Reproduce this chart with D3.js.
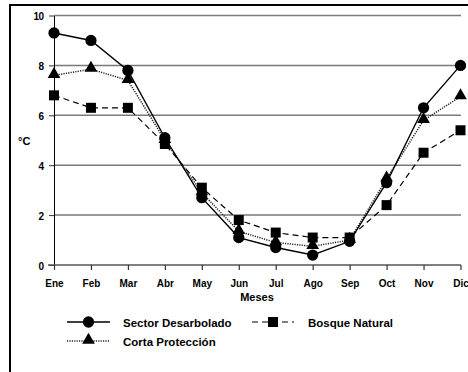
<!DOCTYPE html>
<html>
<head>
<meta charset="utf-8">
<script src="https://cdn.jsdelivr.net/npm/d3@7"></script>
<style>
  html, body { margin: 0; padding: 0; background: #fff; }
  svg { display: block; font-family: "Liberation Sans", Arial, sans-serif; }
</style>
</head>
<body>
<svg id="chart" width="468" height="372"></svg>
<script>
// Monthly mean temperature (°C) in three forest sectors
const months = ["Ene","Feb","Mar","Abr","May","Jun","Jul","Ago","Sep","Oct","Nov","Dic"];
const sectorDesarbolado = [9.3, 9.0, 7.8, 5.1, 2.7, 1.1, 0.7, 0.4, 0.95, 3.3, 6.3, 8.0];
const bosqueNatural     = [6.8, 6.3, 6.3, 4.85, 3.1, 1.8, 1.3, 1.1, 1.1, 2.4, 4.5, 5.4];
const cortaProteccion   = [7.6, 7.85, 7.4, 5.0, 2.9, 1.35, 0.9, 0.75, 1.0, 3.45, 5.8, 6.75];
const yTicks = [0, 2, 4, 6, 8, 10];

const svg = d3.select("#chart");

// outer frame (only top and left edges fall inside the view)
svg.append("rect")
  .attr("x", 10).attr("y", 5)
  .attr("width", 480).attr("height", 400)
  .attr("fill", "none").attr("stroke", "#000").attr("stroke-width", 2);

const x = d3.scalePoint().domain(months).range([54, 460.5]);
const y = d3.scaleLinear().domain([0, 10]).range([265, 15.5]);

// horizontal gridlines
svg.append("g")
  .selectAll("line")
  .data(yTicks.filter(d => d > 0))
  .join("line")
  .attr("x1", 54).attr("x2", 461)
  .attr("y1", d => y(d)).attr("y2", d => y(d))
  .attr("stroke", "#7a7a7a").attr("stroke-width", 1.5);

// y axis
const yAxis = svg.append("g")
  .attr("transform", "translate(54,0)")
  .call(d3.axisLeft(y).tickValues(yTicks).tickFormat(d3.format("d")).tickSize(5).tickSizeOuter(0));
yAxis.select(".domain").attr("stroke", "#000").attr("stroke-width", 1);
yAxis.selectAll(".tick line").attr("stroke", "#333");
yAxis.selectAll(".tick text")
  .attr("x", -10.5)
  .attr("dy", "0.4em")
  .attr("font-size", 10).attr("font-weight", "bold").attr("fill", "#000")
  .attr("letter-spacing", -0.5)
  .attr("font-family", "Liberation Sans, Arial, sans-serif");

// x axis
const xAxis = svg.append("g")
  .attr("transform", "translate(0,265)")
  .call(d3.axisBottom(x).tickSize(5).tickSizeOuter(0));
xAxis.select(".domain").attr("stroke", "#555").attr("stroke-width", 1.5)
  .attr("d", "M48,0H461");
xAxis.selectAll(".tick line").attr("stroke", "#333").attr("stroke-width", 1.2);
xAxis.selectAll(".tick text")
  .attr("y", 21.5).attr("dy", null)
  .attr("font-size", 10).attr("font-weight", "bold").attr("fill", "#000")
  .attr("font-family", "Liberation Sans, Arial, sans-serif");

// axis titles
svg.append("text")
  .attr("x", 257).attr("y", 300.5)
  .attr("text-anchor", "middle")
  .attr("font-size", 11).attr("font-weight", "bold")
  .text("Meses");
svg.append("text")
  .attr("x", 18).attr("y", 145)
  .attr("font-size", 11).attr("font-weight", "bold")
  .text("°C");

const line = d3.line().x((d, i) => x(months[i])).y(d => y(d));

const series = [
  { name: "Sector Desarbolado", values: sectorDesarbolado, dash: null, color: "#000", width: 1.4, marker: "circle" },
  { name: "Bosque Natural", values: bosqueNatural, dash: "6,4", color: "#000", width: 1.2, marker: "square" },
  { name: "Corta Protección", values: cortaProteccion, dash: "1.2,1.2", color: "#222", width: 1.5, marker: "triangle" }
];

const symbolFor = {
  circle: d3.symbol(d3.symbolCircle, 100),
  square: d3.symbol(d3.symbolSquare, 100),
  triangle: d3.symbol(d3.symbolTriangle, 70)
};

// draw order: lines first, then markers
const drawOrder = [series[1], series[2], series[0]];
drawOrder.forEach(s => {
  svg.append("path")
    .datum(s.values)
    .attr("d", line)
    .attr("fill", "none")
    .attr("stroke", s.color)
    .attr("stroke-width", s.width)
    .attr("stroke-dasharray", s.dash);
});
drawOrder.forEach(s => {
  svg.append("g")
    .selectAll("path")
    .data(s.values)
    .join("path")
    .attr("d", symbolFor[s.marker])
    .attr("transform", (d, i) => `translate(${x(months[i])},${y(d) + (s.marker === "triangle" ? -1 : 0)})`)
    .attr("fill", "#000");
});

// legend
const legendItems = [
  { s: series[0], x0: 67, x1: 110, tx: 123, y: 322 },
  { s: series[1], x0: 252, x1: 294, tx: 308, y: 322 },
  { s: series[2], x0: 67, x1: 110, tx: 123, y: 341 }
];
legendItems.forEach(it => {
  const g = svg.append("g");
  g.append("line")
    .attr("x1", it.x0).attr("x2", it.x1)
    .attr("y1", it.y).attr("y2", it.y)
    .attr("stroke", it.s.color).attr("stroke-width", it.s.width)
    .attr("stroke-dasharray", it.s.dash);
  g.append("path")
    .attr("d", symbolFor[it.s.marker])
    .attr("transform", `translate(${(it.x0 + it.x1) / 2},${it.y + (it.s.marker === "triangle" ? -1 : 0)})`)
    .attr("fill", "#000");
  g.append("text")
    .attr("x", it.tx).attr("y", it.y + 4.5)
    .attr("font-size", 11.5).attr("font-weight", "bold")
    .text(it.s.name);
});
</script>
</body>
</html>
